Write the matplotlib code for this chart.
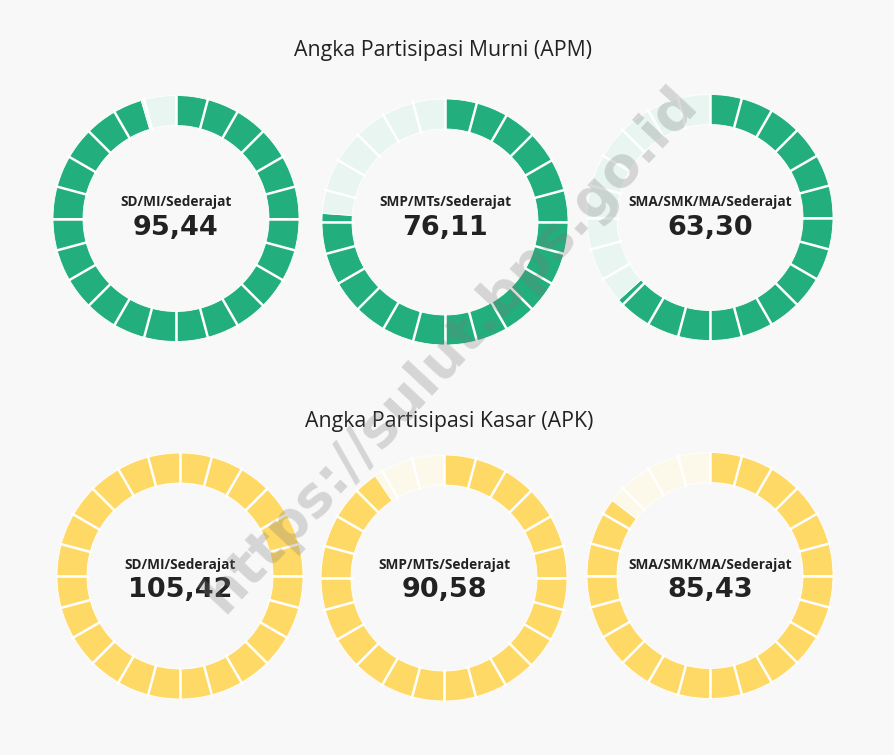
import numpy as np
import matplotlib
matplotlib.use("Agg")
import matplotlib.pyplot as plt

# ---------------- data ----------------
apm_categories = ["SD/MI/Sederajat", "SMP/MTs/Sederajat", "SMA/SMK/MA/Sederajat"]
apm_values = [95.44, 76.11, 63.30]
apk_categories = ["SD/MI/Sederajat", "SMP/MTs/Sederajat", "SMA/SMK/MA/Sederajat"]
apk_values = [105.42, 90.58, 85.43]
title_apm = "Angka Partisipasi Murni (APM)"
title_apk = "Angka Partisipasi Kasar (APK)"
watermark = "https://sulut.bps.go.id"

# ---------------- style ----------------
W, H = 894, 755
BG = "#f8f8f8"
GREEN, GREEN_LIGHT = "#22af7d", "#e8f5f1"
YELLOW, YELLOW_LIGHT = "#ffd966", "#fdf9ea"
TXT = "#222222"
N_SEG = 24
R = 123.0
RING_W = 30.0 / R

fig = plt.figure(figsize=(W / 100, H / 100), dpi=100)
fig.patch.set_facecolor(BG)


def fx(x):
    return x / W


def fy(y):
    return 1 - y / H


def donut(cx, cy, value, dark, light, label, lab_y, num_y):
    ax = fig.add_axes([(cx - R) / W, 1 - (cy + R) / H, 2 * R / W, 2 * R / H])
    frac = min(value, 100.0) / 100.0 * N_SEG
    sizes, colors = [], []
    for i in range(N_SEG):
        f = float(np.clip(frac - i, 0, 1))
        if f > 0:
            sizes.append(f)
            colors.append(dark)
        if f < 1:
            sizes.append(1 - f)
            colors.append(light)
    ax.pie(sizes, colors=colors, startangle=90, counterclock=False, radius=1,
           wedgeprops=dict(width=RING_W, edgecolor="white", linewidth=0.6))
    r_in = 1 - RING_W
    for k in range(N_SEG):
        a = np.deg2rad(90 - k * 360.0 / N_SEG)
        ax.plot([0.98 * r_in * np.cos(a), 1.02 * np.cos(a)],
                [0.98 * r_in * np.sin(a), 1.02 * np.sin(a)],
                color="white", lw=1.8, solid_capstyle="butt")
    ax.set_xlim(-1, 1)
    ax.set_ylim(-1, 1)
    ax.set_aspect("equal")
    ax.axis("off")
    fig.text(fx(cx), fy(lab_y), label, ha="center", va="baseline",
             fontsize=9.8, fontweight="bold", family="Open Sans", color=TXT)
    num = f"{value:.2f}".replace(".", ",")
    fig.text(fx(cx), fy(num_y), num, ha="center", va="baseline",
             fontsize=19.5, fontweight="bold", family="DejaVu Sans", color=TXT)


top_centers = [(176, 218.5), (445, 222), (710, 217.5)]
bot_centers = [(180, 576), (444, 578), (710, 575.5)]

fig.text(fx(443), fy(56), title_apm, ha="center", va="baseline",
         fontsize=15.3, family="Open Sans", color=TXT)
fig.text(fx(449), fy(427), title_apk, ha="center", va="baseline",
         fontsize=15.3, family="Open Sans", color=TXT)

for (cx, cy), v, c in zip(top_centers, apm_values, apm_categories):
    donut(cx, cy, v, GREEN, GREEN_LIGHT, c, 206, 235)
for (cx, cy), v, c in zip(bot_centers, apk_values, apk_categories):
    donut(cx, cy, v, YELLOW, YELLOW_LIGHT, c, 569, 597)

fig.text(fx(450), fy(350), watermark, ha="center", va="center", rotation=47,
         fontsize=40, fontweight="bold", family="DejaVu Sans",
         color="#7a7a7a", alpha=0.28, zorder=10)

fig.savefig("out.png", dpi=100, facecolor=BG)
